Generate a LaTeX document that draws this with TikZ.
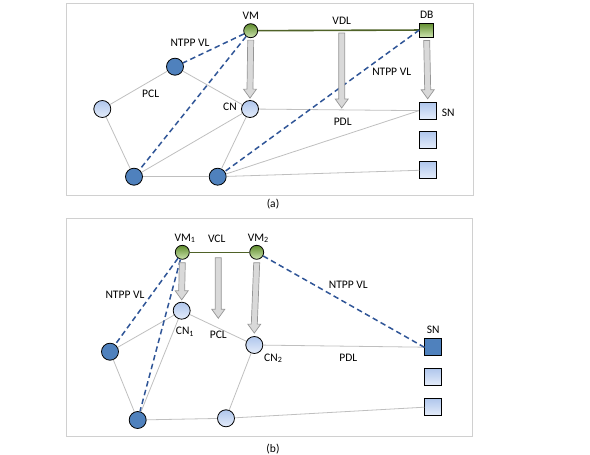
\documentclass[tikz,border=0pt]{standalone}
\usepackage{fontspec}
\setmainfont{Carlito}
\usetikzlibrary{calc}
\definecolor{darkblue}{RGB}{79,129,189}
\definecolor{dashblue}{RGB}{47,85,151}
\definecolor{lineolive}{RGB}{79,98,40}
\definecolor{edgegray}{RGB}{191,191,191}
\definecolor{framegray}{RGB}{208,208,208}
\definecolor{arrowfill}{RGB}{217,217,217}
\definecolor{arrowline}{RGB}{150,150,150}
\tikzset{
  lightc/.style={circle,draw=black,line width=0.8pt,minimum size=17pt,inner sep=0pt,top color={rgb,255:red,175;green,198;blue,236},bottom color={rgb,255:red,228;green,236;blue,250}},
  darkc/.style={circle,draw=black,line width=0.8pt,minimum size=17pt,inner sep=0pt,fill=darkblue},
  greenc/.style={circle,draw=black,line width=0.8pt,minimum size=14pt,inner sep=0pt,top color={rgb,255:red,95;green,140;blue,45},bottom color={rgb,255:red,205;green,228;blue,175}},
  greens/.style={rectangle,draw=black,line width=0.8pt,minimum size=14pt,inner sep=0pt,top color={rgb,255:red,95;green,140;blue,45},bottom color={rgb,255:red,205;green,228;blue,175}},
  lights/.style={rectangle,draw=black,line width=0.8pt,minimum size=17pt,inner sep=0pt,top color={rgb,255:red,175;green,198;blue,236},bottom color={rgb,255:red,228;green,236;blue,250}},
  darks/.style={rectangle,draw=black,line width=0.8pt,minimum size=17pt,inner sep=0pt,fill=darkblue},
  edge/.style={draw=edgegray,line width=0.8pt},
  dlink/.style={draw=dashblue,line width=1.5pt,dash pattern=on 5.5pt off 3.5pt},
  glink/.style={draw=lineolive,line width=1.6pt},
  lbl/.style={font=\fontsize{11.5}{13.5}\selectfont,inner sep=0pt},
  barrow/.style={fill=arrowfill,draw=arrowline,line width=0.7pt,line join=miter},
  frame/.style={draw=framegray,line width=1pt}
}
\newcommand\blockarrow[2]{%
  \path[barrow] ($(#1)+(-3,0)$) -- ($(#2)+(-3,-9)$) -- ($(#2)+(-6.5,-9)$) -- (#2) -- ($(#2)+(6.5,-9)$) -- ($(#2)+(3,-9)$) -- ($(#1)+(3,0)$) -- cycle;}
\begin{document}
\begin{tikzpicture}[x=1pt,y=-1pt]
\useasboundingbox (0,0) rectangle (590,455);
% ---------- panel (a)
\node[frame,rectangle,minimum width=407pt,minimum height=192pt,inner sep=0pt] (fa) at (269.5,99) {};
\node[lbl] (capa) at (273,204) {(a)};
\node[greenc] (vm) at (250.7,30.7) {};
\node[greens] (db) at (426.7,30) {};
\node[darkc] (nt) at (175,66.7) {};
\node[lightc] (lc) at (102.3,109) {};
\node[lightc] (cn) at (250,109) {};
\node[darkc] (bl) at (134,176.7) {};
\node[darkc] (bm) at (217.7,176.7) {};
\node[lights] (sn1) at (427.7,110.7) {};
\node[lights] (sn2) at (427.7,140) {};
\node[lights] (sn3) at (428.3,170) {};
\draw[edge] (nt) -- (lc);
\draw[edge] (lc) -- (bl);
\draw[edge] (nt) -- (cn);
\draw[edge] (bl) -- (cn);
\draw[edge] (bl) -- (bm);
\draw[edge] (bm) -- (cn);
\draw[edge] (cn) -- (sn1);
\draw[edge] (bm) -- (sn1.west);
\draw[edge] (bm) -- (sn3);
\draw[glink] (vm) -- (db);
\draw[dlink] (vm) -- (nt);
\draw[dlink] (vm) -- (bl);
\draw[dlink] (db.west) -- (bm);
\coordinate (a1s) at ($(vm.south)+(0,2)$);
\coordinate (a1e) at ($(cn.north)+(0,-2)$);
\coordinate (a2s) at (341.7,33);
\coordinate (a2e) at (341.7,108);
\coordinate (a3s) at ($(db.south)+(0,3)$);
\coordinate (a3e) at ($(sn1.north)+(0,-3)$);
\blockarrow{a1s}{a1e}
\blockarrow{a2s}{a2e}
\blockarrow{a3s}{a3e}
\node[lbl] (tvm) at (250.7,16) {VM};
\node[lbl] (tvdl) at (341.7,20.7) {VDL};
\node[lbl] (tdb) at (426.7,15) {DB};
\node[lbl] (tnt1) at (190,43.3) {NTPP VL};
\node[lbl] (tpcl) at (150.7,94.3) {PCL};
\node[lbl] (tcn) at (230,107.3) {CN};
\node[lbl] (tnt2) at (391.7,71.7) {NTPP VL};
\node[lbl] (tpdl) at (342.7,121.7) {PDL};
\node[lbl] (tsn) at (448.3,112.7) {SN};
% ---------- panel (b)
\node[frame,rectangle,minimum width=406pt,minimum height=218pt,inner sep=0pt] (fb) at (269,327.5) {};
\node[lbl] (capb) at (273,449) {(b)};
\node[greenc] (vma) at (182.3,252.3) {};
\node[greenc] (vmb) at (256.7,252.3) {};
\node[lightc] (cna) at (181.7,310.7) {};
\node[lightc] (cnb) at (254.3,345) {};
\node[darkc] (ld) at (110,351.7) {};
\node[darkc] (bl2) at (137.7,420) {};
\node[lightc] (bm2) at (226,418.3) {};
\node[darks] (snb) at (433.3,347.3) {};
\node[lights] (snb2) at (433.3,376.7) {};
\node[lights] (snb3) at (433.3,406.7) {};
\draw[edge] (ld) -- (cna);
\draw[edge] (ld) -- (bl2);
\draw[edge] (cna) -- (bl2);
\draw[edge] (cna) -- (cnb);
\draw[edge] (bl2) -- (bm2);
\draw[edge] (bm2) -- (cnb);
\draw[edge] (cnb) -- (snb);
\draw[edge] (bm2) -- (snb3);
\draw[glink] (vma) -- (vmb);
\draw[dlink] (vma) -- (ld);
\draw[dlink] (vma) -- (bl2);
\draw[dlink] (vmb) -- (snb.west);
\coordinate (b1s) at ($(vma.south)+(0,3)$);
\coordinate (b1e) at ($(cna.north)+(0,-2)$);
\coordinate (b2s) at (218.3,257.7);
\coordinate (b2e) at (218.3,318.3);
\coordinate (b3s) at ($(vmb.south)+(0,3)$);
\coordinate (b3e) at ($(cnb.north)+(0,-3)$);
\blockarrow{b1s}{b1e}
\blockarrow{b2s}{b2e}
\blockarrow{b3s}{b3e}
\node[lbl] (tvma) at (185,238.3) {VM\textsubscript{1}};
\node[lbl] (tvcl) at (216.7,239.3) {VCL};
\node[lbl] (tvmb) at (258.3,238.3) {VM\textsubscript{2}};
\node[lbl] (tntb1) at (125,295) {NTPP VL};
\node[lbl] (tcna) at (185,331.7) {CN\textsubscript{1}};
\node[lbl] (tpclb) at (218.3,335) {PCL};
\node[lbl] (tcnb) at (273.3,358.3) {CN\textsubscript{2}};
\node[lbl] (tntb2) at (348.3,285) {NTPP VL};
\node[lbl] (tpdlb) at (348.3,358.3) {PDL};
\node[lbl] (tsnb) at (433.3,330) {SN};
\end{tikzpicture}
\end{document}
